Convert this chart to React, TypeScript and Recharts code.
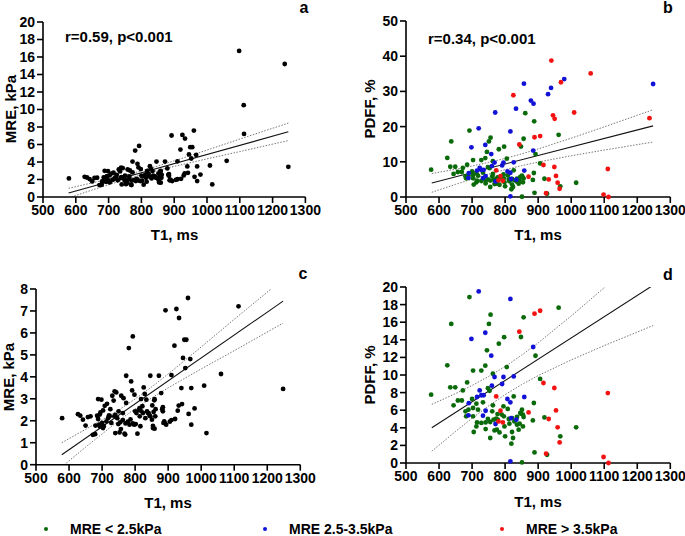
import { ComposedChart, Scatter, Line, XAxis, YAxis } from "recharts";

type Pt = [number, number];

// tick values
const t1Ticks = [500, 600, 700, 800, 900, 1000, 1100, 1200, 1300];
const mreTicksWide = [0, 2, 4, 6, 8, 10, 12, 14, 16, 18, 20];
const mreTicksNarrow = [0, 1, 2, 3, 4, 5, 6, 7, 8];
const pdffTicksWide = [0, 10, 20, 30, 40, 50];
const pdffTicksNarrow = [0, 2, 4, 6, 8, 10, 12, 14, 16, 18, 20];

// T1 (ms) vs MRE (kPa)
const mrePoints: Pt[] = [
  [579, 2.12], [627, 2.3], [634, 2.23], [642, 2.05], [650, 1.78], [657, 2.17], [665, 2.2],
  [672, 1.36], [679, 1.39], [680, 1.78], [685, 2.23], [688, 2.99], [688, 2.08], [691, 1.82],
  [693, 2.28], [693, 1.74], [695, 2.38], [698, 2.96], [700, 1.9], [703, 2.47], [703, 1.67],
  [705, 1.75], [708, 2.68], [713, 1.97], [715, 2.77], [718, 2.12], [721, 2.25], [723, 2.2],
  [725, 2.53], [728, 1.9], [731, 3.14], [735, 2.92], [737, 2.2], [738, 3.34], [740, 2.27],
  [740, 1.44], [743, 3.29], [746, 2.12], [749, 1.85], [750, 2.43], [753, 1.47], [755, 1.93],
  [757, 1.62], [758, 3.14], [763, 2.03], [763, 2.35], [765, 3.03], [768, 1.41], [770, 1.37],
  [771, 1.88], [773, 2.81], [773, 4.05], [778, 1.96], [781, 5.31], [783, 1.82], [786, 2.06],
  [788, 3.79], [791, 3.38], [793, 5.84], [793, 1.88], [797, 1.82], [798, 3.19], [800, 2.43],
  [802, 1.85], [804, 2.35], [807, 1.41], [811, 2.5], [814, 2.58], [814, 2.2], [816, 1.75],
  [818, 2.99], [819, 2.43], [822, 2.66], [824, 2.35], [826, 3.52], [829, 3.22], [831, 2.12],
  [834, 2.96], [836, 2.43], [839, 2.35], [841, 2.35], [844, 2.23], [846, 4.05], [846, 2.2],
  [851, 2.05], [852, 2.7], [854, 1.77], [854, 1.67], [856, 2.4], [858, 2.93], [859, 2.98],
  [859, 1.64], [861, 2.2], [862, 2.53], [872, 4.05], [879, 3.26], [882, 2.53], [884, 2.62],
  [884, 2.43], [886, 1.9], [888, 1.97], [889, 1.92], [892, 7.03], [894, 1.82], [905, 1.96],
  [910, 2.03], [910, 4.08], [919, 5.42], [921, 2.08], [925, 7.09], [929, 2.46], [932, 2.69],
  [933, 6.68], [940, 3.49], [942, 2.76], [945, 4.86], [949, 5.69], [952, 4.4], [955, 5.69],
  [960, 7.59], [962, 2.31], [967, 4.81], [970, 3.49], [970, 1.82], [980, 2.56], [1009, 3.6],
  [1016, 1.44], [1060, 4.13], [1098, 16.7], [1112, 10.5], [1113, 7.21], [1237, 15.2], [1248, 3.45],
];

// T1 (ms) vs PDFF (%), grouped by MRE
const pdffLow: Pt[] = [
  [576, 7.76], [625, 11.1], [634, 8.6], [637, 15.8], [644, 6.55], [649, 8.6], [657, 7.1],
  [669, 7.1], [672, 8.25], [680, 5.87], [682, 5.3], [685, 9.16], [689, 6.06], [692, 18.86],
  [700, 7.27], [703, 10.5], [703, 6.25], [703, 5.3], [705, 3.52], [713, 6.74], [713, 4.16],
  [715, 4.61], [718, 6.06], [728, 10.5], [728, 4.55], [733, 6.9], [740, 11.06], [741, 4.61],
  [741, 3.86], [745, 12.8], [748, 8.5], [748, 5.0], [751, 15.8], [753, 8.2], [755, 4.66],
  [755, 2.84], [756, 16.85], [761, 5.87], [763, 10.15], [763, 6.55], [765, 4.92], [768, 3.7],
  [773, 5.04], [775, 3.79], [777, 5.56], [778, 4.92], [781, 13.56], [783, 3.48], [790, 5.5],
  [795, 6.44], [796, 5.3], [797, 14.3], [798, 4.16], [800, 3.03], [805, 10.9], [808, 6.14],
  [811, 5.0], [813, 4.47], [819, 2.2], [821, 5.11], [821, 3.52], [824, 2.84], [826, 7.57],
  [828, 4.73], [836, 5.23], [836, 4.35], [841, 3.79], [844, 4.47], [846, 5.68], [848, 14.32],
  [848, 5.6], [851, 6.06], [851, 0.07], [854, 5.49], [854, 4.16], [856, 16.55], [856, 5.23],
  [861, 23.8], [884, 4.84], [887, 6.82], [888, 21.5], [889, 1.2], [892, 12.19], [906, 9.55],
  [919, 5.18], [927, 0.94], [962, 17.65], [967, 3.03], [1015, 4.05],
];
const pdffMid: Pt[] = [
  [689, 5.42], [690, 6.8], [698, 14.1], [715, 7.5], [720, 19.5], [723, 8.25], [728, 7.7],
  [733, 5.38], [735, 7.7], [740, 14.8], [741, 5.94], [758, 12.2], [760, 8.79], [768, 9.77],
  [770, 24.0], [771, 4.43], [791, 8.98], [795, 9.77], [807, 7.27], [816, 6.89], [816, 18.64],
  [816, 0.19], [818, 5.11], [826, 9.84], [833, 25.1], [834, 4.92], [857, 32.2], [858, 7.5],
  [878, 27.4], [885, 13.18], [886, 26.5], [930, 29.2], [939, 31.0], [979, 33.5], [1248, 32.1],
];
const pdffHigh: Pt[] = [
  [773, 7.57], [780, 4.73], [786, 5.94], [793, 4.61], [825, 28.9], [843, 14.92], [871, 5.75],
  [889, 16.97], [906, 17.3], [916, 9.09], [924, 1.06], [932, 5.0], [940, 38.75], [945, 23.2],
  [949, 8.52], [950, 22.2], [954, 5.98], [959, 4.05], [965, 2.34], [969, 32.6], [1009, 24.0],
  [1059, 35.1], [1098, 0.68], [1111, 7.95], [1113, 0], [1237, 22.4],
];

// regression lines and 95% bands
const mreFit: Pt[] = [[578, 0.45], [1248, 7.45]];
const mreUpper: Pt[] = [
  [578, 1.0], [650, 1.61], [700, 2.04], [750, 2.49], [800, 2.99], [850, 3.54], [900, 4.13],
  [1000, 5.36], [1100, 6.62], [1248, 8.45],
];
const mreLower: Pt[] = [
  [578, -0.1], [650, 0.8], [700, 1.4], [750, 2.0], [800, 2.55], [850, 3.04], [900, 3.5],
  [1000, 4.36], [1100, 5.19], [1248, 6.45],
];
const pdffFit: Pt[] = [[578, 4.0], [1248, 20.2]];
const pdffUpper: Pt[] = [
  [578, 6.66], [650, 7.89], [700, 8.81], [750, 9.83], [800, 10.97], [850, 12.25], [900, 13.65],
  [1000, 16.71], [1100, 19.92], [1248, 24.8],
];
const pdffLower: Pt[] = [
  [578, 1.34], [650, 3.59], [700, 5.09], [750, 6.49], [800, 7.77], [850, 8.91], [900, 9.93],
  [1000, 11.71], [1100, 13.34], [1248, 15.62],
];

const GREEN = "#0a6a0a";
const BLUE = "#1212d6";
const RED = "#f21212";
const FONT = '"Liberation Sans", Arial, Helvetica, sans-serif';

const toXY = (pts: Pt[]) => pts.map(([x, y]) => ({ x, y }));
const dot = (color: string) => (p: any) => <circle cx={p.cx} cy={p.cy} r={2.4} fill={color} />;

const axisStyle = { stroke: "#000", strokeWidth: 1.6 };
const tickStyle = { fill: "#000", fontSize: 14, fontWeight: 700 };

interface PanelProps {
  left: number;
  top: number;
  w: number;
  h: number;
  yMax: number;
  yTicks: number[];
  series: { pts: Pt[]; color: string }[];
  fit: Pt[];
  upper: Pt[];
  lower: Pt[];
}

function Panel({ left, top, w, h, yMax, yTicks, series, fit, upper, lower }: PanelProps) {
  return (
    <div style={{ position: "absolute", left: left - 45, top: top - 10 }}>
      <ComposedChart width={w + 70} height={h + 40} margin={{ top: 10, right: 25, bottom: 0, left: 0 }}>
        <XAxis
          type="number"
          dataKey="x"
          domain={[500, 1300]}
          ticks={t1Ticks}
          interval={0}
          height={30}
          axisLine={axisStyle}
          tickLine={axisStyle}
          tick={tickStyle}
          tickSize={6}
        />
        <YAxis
          yAxisId="s"
          type="number"
          dataKey="y"
          domain={[0, yMax]}
          ticks={yTicks}
          interval={0}
          width={45}
          axisLine={axisStyle}
          tickLine={axisStyle}
          tick={tickStyle}
          tickSize={6}
        />
        <YAxis yAxisId="l" orientation="right" width={0} type="number" dataKey="y"
          domain={[0, yMax]} allowDataOverflow hide />
        {series.map((s, i) => (
          <Scatter
            key={i}
            yAxisId="s"
            data={toXY(s.pts.filter((p) => p[1] <= yMax))}
            dataKey="y"
            shape={dot(s.color)}
            isAnimationActive={false}
          />
        ))}
        <Line yAxisId="l" data={toXY(upper)} dataKey="y" type="linear" stroke="#777" strokeWidth={1}
          strokeDasharray="1.5 1.5" dot={false} activeDot={false} isAnimationActive={false} />
        <Line yAxisId="l" data={toXY(lower)} dataKey="y" type="linear" stroke="#777" strokeWidth={1}
          strokeDasharray="1.5 1.5" dot={false} activeDot={false} isAnimationActive={false} />
        <Line yAxisId="l" data={toXY(fit)} dataKey="y" type="linear" stroke="#111" strokeWidth={1.1}
          dot={false} activeDot={false} isAnimationActive={false} />
      </ComposedChart>
    </div>
  );
}

function Txt({ x, y, size, rotate, anchor, children }: any) {
  const tx = anchor === "start" ? "0" : "-50%";
  return (
    <div
      style={{
        position: "absolute",
        left: x,
        top: y,
        transform: `translate(${tx}, -50%)${rotate ? ` rotate(${rotate}deg)` : ""}`,
        transformOrigin: anchor === "start" ? "left center" : "center",
        whiteSpace: "nowrap",
        fontSize: size,
        fontWeight: 700,
        lineHeight: 1,
        color: "#000",
      }}
    >
      {children}
    </div>
  );
}

function Legend({ x, color, label }: { x: number; color: string; label: string }) {
  return (
    <>
      <div style={{ position: "absolute", left: x - 2.3, top: 529 - 2.3, width: 4.6, height: 4.6, borderRadius: "50%", background: color }} />
      <Txt x={x + 24} y={529} size={14} anchor="start">{label}</Txt>
    </>
  );
}

export default function App() {
  const black = [{ pts: mrePoints, color: "#000" }];
  const groups = [
    { pts: pdffLow, color: GREEN },
    { pts: pdffMid, color: BLUE },
    { pts: pdffHigh, color: RED },
  ];
  return (
    <div style={{ position: "absolute", left: 0, top: 0, width: 685, height: 536, background: "#fff", fontFamily: FONT, overflow: "hidden" }}>
      <Panel left={43.3} top={21.7} w={262.4} h={175} yMax={20} yTicks={mreTicksWide}
        series={black} fit={mreFit} upper={mreUpper} lower={mreLower} />
      <Panel left={405.7} top={20.7} w={264.3} h={176} yMax={50} yTicks={pdffTicksWide}
        series={groups} fit={pdffFit} upper={pdffUpper} lower={pdffLower} />
      <Panel left={35.7} top={289.3} w={264.3} h={175.7} yMax={8} yTicks={mreTicksNarrow}
        series={black} fit={mreFit} upper={mreUpper} lower={mreLower} />
      <Panel left={405.7} top={287.3} w={264.3} h={176} yMax={20} yTicks={pdffTicksNarrow}
        series={groups} fit={pdffFit} upper={pdffUpper} lower={pdffLower} />

      <Txt x={304} y={8} size={16}>a</Txt>
      <Txt x={668} y={8} size={16}>b</Txt>
      <Txt x={303} y={274} size={16}>c</Txt>
      <Txt x={668} y={275} size={16}>d</Txt>

      <Txt x={65} y={36} size={15} anchor="start">r=0.59, p&lt;0.001</Txt>
      <Txt x={428} y={38} size={15} anchor="start">r=0.34, p&lt;0.001</Txt>

      <Txt x={174.5} y={234} size={15}>T1, ms</Txt>
      <Txt x={538} y={234} size={15}>T1, ms</Txt>
      <Txt x={168} y={502} size={15}>T1, ms</Txt>
      <Txt x={538} y={501} size={15}>T1, ms</Txt>

      <Txt x={10} y={109} size={15} rotate={-90}>MRE, kPa</Txt>
      <Txt x={369} y={109} size={15} rotate={-90}>PDFF, %</Txt>
      <Txt x={8} y={377} size={15} rotate={-90}>MRE, kPa</Txt>
      <Txt x={369} y={375} size={15} rotate={-90}>PDFF, %</Txt>

      <Legend x={46} color={GREEN} label="MRE < 2.5kPa" />
      <Legend x={265} color={BLUE} label="MRE 2.5-3.5kPa" />
      <Legend x={502} color={RED} label="MRE > 3.5kPa" />
    </div>
  );
}
